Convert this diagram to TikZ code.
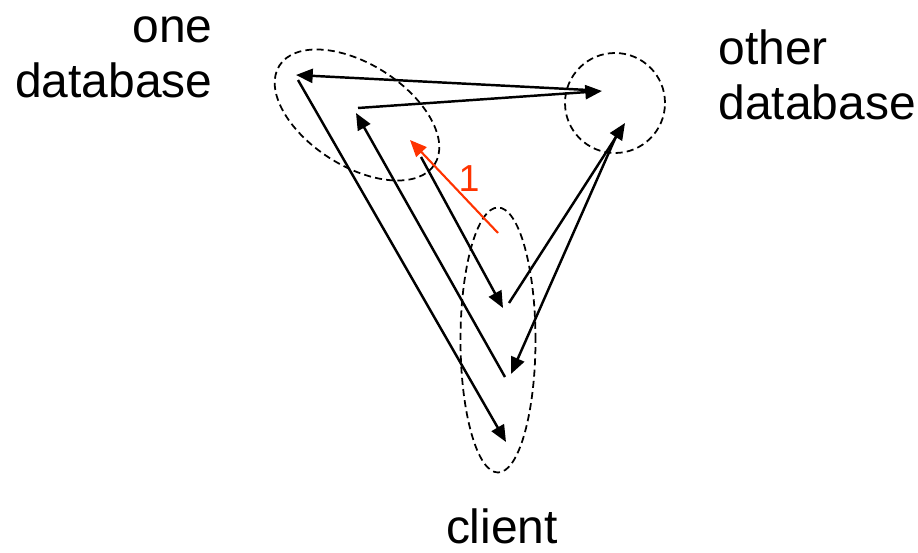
\documentclass[tikz,border=0pt]{standalone}
\usepackage{fontspec}
\setmainfont{Liberation Sans}
\usetikzlibrary{arrows.meta}
\definecolor{flowred}{RGB}{255,51,0}
\tikzset{
  region/.style={dash pattern=on 4pt off 2.4pt, line width=1pt},
  flow/.style={->, line width=1.4pt},
  label/.style={inner sep=0pt, font=\fontsize{27.3pt}{31.3pt}\selectfont}
}

\begin{document}
\begin{tikzpicture}[>={Triangle[length=9.5pt,width=8pt]}]
\useasboundingbox (0,0) rectangle (18.36,-11.06);

% the three places
\draw[region] (7.14,-2.30) ellipse [x radius=1.84, y radius=1.02, rotate=-32.5];
\draw[region] (12.30,-2.06) circle (1.0);
\draw[region] (9.96,-6.80) ellipse [x radius=0.75, y radius=2.65];

\node[label, align=right, anchor=base east] (onedb) at (4.26,-1.96) {one\\database};
\node[label, align=left, anchor=base west] (otherdb) at (14.36,-2.40) {other\\database};
\node[label, anchor=base] (client) at (10.04,-10.86) {client};

% ends in one database
\coordinate (O1) at (5.92,-1.50);
\coordinate (O2) at (5.96,-1.60);
\coordinate (O3) at (7.16,-2.16);
\coordinate (O4) at (7.12,-2.26);
\coordinate (O5) at (8.42,-3.14);
\coordinate (O6) at (8.20,-2.80);

% ends in other database
\coordinate (D1) at (11.76,-1.80);
\coordinate (D2) at (12.04,-1.82);
\coordinate (D3) at (12.50,-2.46);
\coordinate (D4) at (12.36,-2.64);

% ends in client
\coordinate (C1) at (10.06,-6.16);
\coordinate (C2) at (10.18,-6.06);
\coordinate (C3) at (10.10,-7.54);
\coordinate (C4) at (10.22,-7.48);
\coordinate (C5) at (10.12,-8.84);
\coordinate (C6) at (9.96,-4.66);

\draw[flow] (D1) -- (O1);
\draw[flow] (O3) -- (D2);
\draw[flow] (O2) -- (C5);
\draw[flow] (C3) -- (O4);
\draw[flow] (O5) -- (C1);
\draw[flow] (C2) -- (D3);
\draw[flow] (D4) -- (C4);

\draw[flow, flowred, line width=1.2pt] (C6) -- (O6);
\node[inner sep=0pt, anchor=base, text=flowred, font=\fontsize{21.4pt}{25pt}\selectfont] (stepone) at (9.38,-3.84) {1};
\end{tikzpicture}
\end{document}
